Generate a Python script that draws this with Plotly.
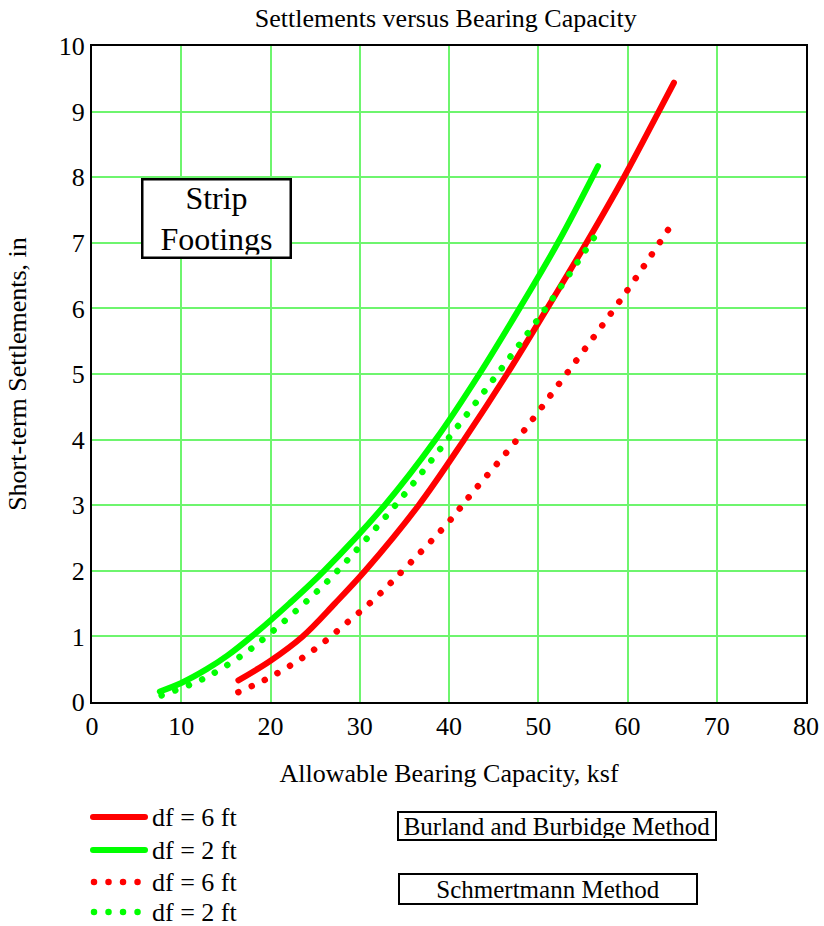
import plotly.graph_objects as go

# Burland and Burbidge method (solid lines)
bb_df6_q = [16.4, 20.0, 23.6, 27.2, 30.6, 36.6, 41.7, 46.5, 51.0, 55.4, 59.6, 63.5, 65.2]
bb_df6_s = [0.33, 0.63, 1.0, 1.5, 2.0, 3.0, 4.0, 5.0, 6.0, 7.0, 8.0, 9.0, 9.44]
bb_df2_q = [7.6, 10.0, 12.85, 15.2, 17.9, 22.1, 26.0, 32.8, 38.5, 43.4, 47.9, 52.2, 56.7]
bb_df2_s = [0.16, 0.29, 0.5, 0.71, 1.0, 1.5, 2.0, 3.0, 4.0, 5.0, 6.0, 7.0, 8.17]

# Schmertmann method (dotted lines)
sm_df6_q = [16.4, 19.4, 22.4, 25.4, 28.4, 31.4, 34.3, 40.0, 42.5, 47.5, 53.2, 59.8, 64.9]
sm_df6_s = [0.15, 0.34, 0.57, 0.85, 1.19, 1.54, 1.93, 2.75, 3.17, 3.98, 5.01, 6.24, 7.27]
sm_df2_q = [7.8, 12.4, 16.9, 19.9, 24.3, 27.3, 34.0, 40.0, 45.7, 51.2, 56.4]
sm_df2_s = [0.1, 0.35, 0.72, 1.04, 1.57, 1.97, 3.0, 4.03, 5.05, 6.07, 7.11]

x_ticks = [0, 10, 20, 30, 40, 50, 60, 70, 80]
y_ticks = [0, 1, 2, 3, 4, 5, 6, 7, 8, 9, 10]

legend_labels = ["df = 6 ft", "df = 2 ft", "df = 6 ft", "df = 2 ft"]
method_labels = ["Burland and Burbidge Method", "Schmertmann Method"]

RED = "#ff0000"
GREEN = "#00ff00"
FONT = "Liberation Serif, Times New Roman, serif"
DOT = "0.01px,14.5px"
FS = 26

# plot-area pixel geometry (for placing paper-referenced decorations)
L, R, T, B = 92, 806, 46, 702
W, H = R - L, B - T


def px(x):
    return (x - L) / W


def py(y):
    return (B - y) / H


fig = go.Figure()
styles = [
    (bb_df6_q, bb_df6_s, RED, 6, None),
    (bb_df2_q, bb_df2_s, GREEN, 6, None),
    (sm_df6_q, sm_df6_s, RED, 6.5, DOT),
    (sm_df2_q, sm_df2_s, GREEN, 6.5, DOT),
]
for (xq, ys, col, w, dash), name in zip(styles, legend_labels):
    fig.add_trace(go.Scatter(x=xq, y=ys, mode="lines", name=name, showlegend=False,
                             line=dict(color=col, width=w, shape="spline",
                                       smoothing=1.0, dash=dash)))

axis_common = dict(showline=True, linecolor="black", linewidth=2, mirror=True,
                   showgrid=True, gridcolor="rgb(110,245,110)", gridwidth=1.5,
                   zeroline=False, ticks="", tickfont=dict(family=FONT, size=FS, color="black"))

shapes = []
annotations = []
row_y = [817, 850, 882, 912]
for (xq, ys, col, w, dash), name, ry in zip(styles, legend_labels, row_y):
    x0, x1 = (93, 145) if dash is None else (94, 138)
    shapes.append(dict(type="line", xref="paper", yref="paper",
                       x0=px(x0), x1=px(x1), y0=py(ry), y1=py(ry),
                       line=dict(color=col, width=w, dash=dash or "solid")))
    annotations.append(dict(x=px(150), y=py(ry), xref="paper", yref="paper",
                            xanchor="left", yanchor="middle", text=name, showarrow=False,
                            font=dict(family=FONT, size=FS)))

annotations += [
    dict(x=13.95, y=7.37, xref="x", yref="y", text="Strip<br>Footings",
         xanchor="center", yanchor="middle",
         showarrow=False, font=dict(family=FONT, size=32), align="center",
         bordercolor="black", borderwidth=2.5, bgcolor="white", borderpad=2,
         width=142, height=72),
    dict(x=px(557), y=py(826), xref="paper", yref="paper",
         xanchor="center", yanchor="middle",
         text=method_labels[0], showarrow=False,
         font=dict(family=FONT, size=25), bordercolor="black", borderwidth=2,
         bgcolor="white", borderpad=1, width=314, height=24),
    dict(x=px(548), y=py(889), xref="paper", yref="paper",
         xanchor="center", yanchor="middle",
         text=method_labels[1], showarrow=False,
         font=dict(family=FONT, size=25), bordercolor="black", borderwidth=2,
         bgcolor="white", borderpad=1, width=294, height=26),
]

fig.update_layout(
    width=824, height=926,
    margin=dict(l=L, r=824 - R, t=T, b=926 - B, autoexpand=False),
    paper_bgcolor="white", plot_bgcolor="white",
    font=dict(family=FONT, size=FS, color="black"),
    showlegend=False,
    title=dict(text="Settlements versus Bearing Capacity", x=0.541, xanchor="center",
               y=1 - 18 / 926, yanchor="middle", font=dict(family=FONT, size=FS)),
    xaxis=dict(range=[0, 80], tickvals=x_ticks, ticktext=[str(v) for v in x_ticks],
               title=dict(text="Allowable Bearing Capacity, ksf", standoff=24,
                          font=dict(family=FONT, size=FS)),
               automargin=False, **axis_common),
    yaxis=dict(range=[0, 10], tickvals=y_ticks, ticktext=[str(v) for v in y_ticks],
               title=dict(text="Short-term Settlements, in", standoff=25,
                          font=dict(family=FONT, size=FS)),
               automargin=False, **axis_common),
    shapes=shapes,
    annotations=annotations,
)

post = """
document.body.style.margin='0';
document.body.style.padding='0';
function rc(){document.querySelectorAll('.scatterlayer .js-line, .shapelayer path').forEach(function(p){p.style.strokeLinecap='round';});}
rc();
var gd=document.getElementById('{plot_id}');
if(gd && gd.on){gd.on('plotly_afterplot', rc);}
"""
fig.write_html("out.html", post_script=post, config={"displayModeBar": False})
